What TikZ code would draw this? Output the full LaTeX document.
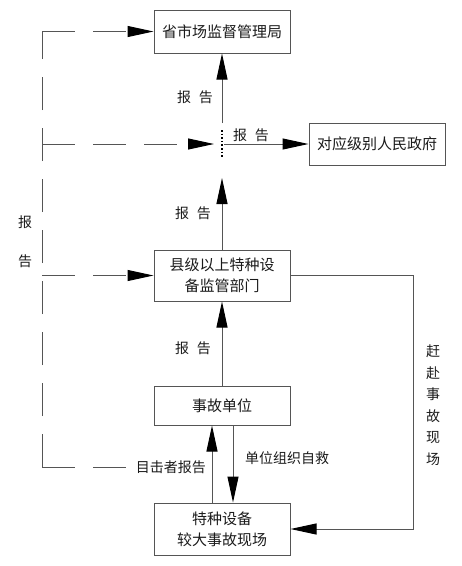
\documentclass[tikz,border=0pt]{standalone}
\usepackage{fontspec}
\setmainfont{Noto Sans CJK SC}
\usetikzlibrary{arrows.meta}
\definecolor{ln}{HTML}{555555}
\definecolor{tx}{HTML}{1A1A1A}
\begin{document}
\begin{tikzpicture}[x=1pt,y=-1pt,
  box/.style={draw=ln,line width=1pt,minimum width=136pt,inner sep=0pt,align=center,
    font=\fontsize{15}{21}\selectfont,text=tx},
  lbl/.style={font=\fontsize{14}{21}\selectfont,text=tx,inner sep=0pt,align=center},
  ln/.style={draw=ln,line width=1pt},
  arr/.style={-{Triangle[length=26pt,width=11pt,black]}},
  dsh/.style={ln,dash pattern=on 33pt off 18pt}]
\useasboundingbox (0,0) rectangle (462,566);
% boxes
\node[box,minimum height=43pt] (b1) at (222,31.5) {省市场监督管理局};
\node[box,minimum height=42pt] (b2) at (377,144) {对应级别人民政府};
\node[box,minimum height=51pt] (b3) at (222,275.5) {县级以上特种设\\备监管部门};
\node[box,minimum height=39pt] (b4) at (222,405.5) {事故单位};
\node[box,minimum height=52pt] (b5) at (222,529) {特种设备\\较大事故现场};
% junction
\coordinate (jt) at (222,123);
\coordinate (jd1) at (222,130);
\coordinate (jd2) at (222,157);
\coordinate (jb) at (222,178);
\coordinate (jr) at (224,144);
\coordinate (jl) at (214,144);
\draw[black,dotted,line width=1.6pt] (jd1) -- (jd2);
\draw[ln,arr] (jt) -- (b1.south);
\draw[ln,arr] (jr) -- (b2.west);
\draw[ln,arr] (b3.north) -- (jb);
\draw[ln,arr] (b4.north) -- (b3.south);
% between b4 and b5
\draw[ln,arr] (b5.north -| 212,0) -- (b4.south -| 212,0);
\draw[ln,arr] (b4.south -| 233,0) -- (b5.north -| 233,0);
% right path
\coordinate (r1) at (413,275.5);
\coordinate (r2) at (413,529);
\draw[ln,arr] (b3.east) -- (r1) -- (r2) -- (b5.east);
% left dashed
\coordinate (tl) at (42,31.5);
\coordinate (ml) at (42,144);
\coordinate (cl) at (42,275.5);
\coordinate (bl) at (42,467);
\node[lbl,anchor=east] (w) at (206,467) {目击者报告};
\draw[dsh] (bl) -- (tl);
\draw[dsh,arr] (tl) -- (b1.west);
\draw[dsh,arr] (ml) -- (jl);
\draw[dsh,arr] (cl) -- (b3.west);
\draw[dsh] (bl) -- (w.west);
% labels
\node[lbl] (l1) at (195,97) {报\hspace{8pt}告};
\node[lbl] (l2) at (251,135) {报\hspace{8pt}告};
\node[lbl] (l3) at (193,213) {报\hspace{8pt}告};
\node[lbl] (l4) at (193,348) {报\hspace{8pt}告};
\node[lbl] (l5) at (287,458) {单位组织自救};
\node[lbl,font=\fontsize{14}{21.5}\selectfont] (l6) at (433,405) {赶\\赴\\事\\故\\现\\场};
\node[lbl,font=\fontsize{14}{39}\selectfont] (l7) at (25,242) {报\\告};
\end{tikzpicture}
\end{document}
